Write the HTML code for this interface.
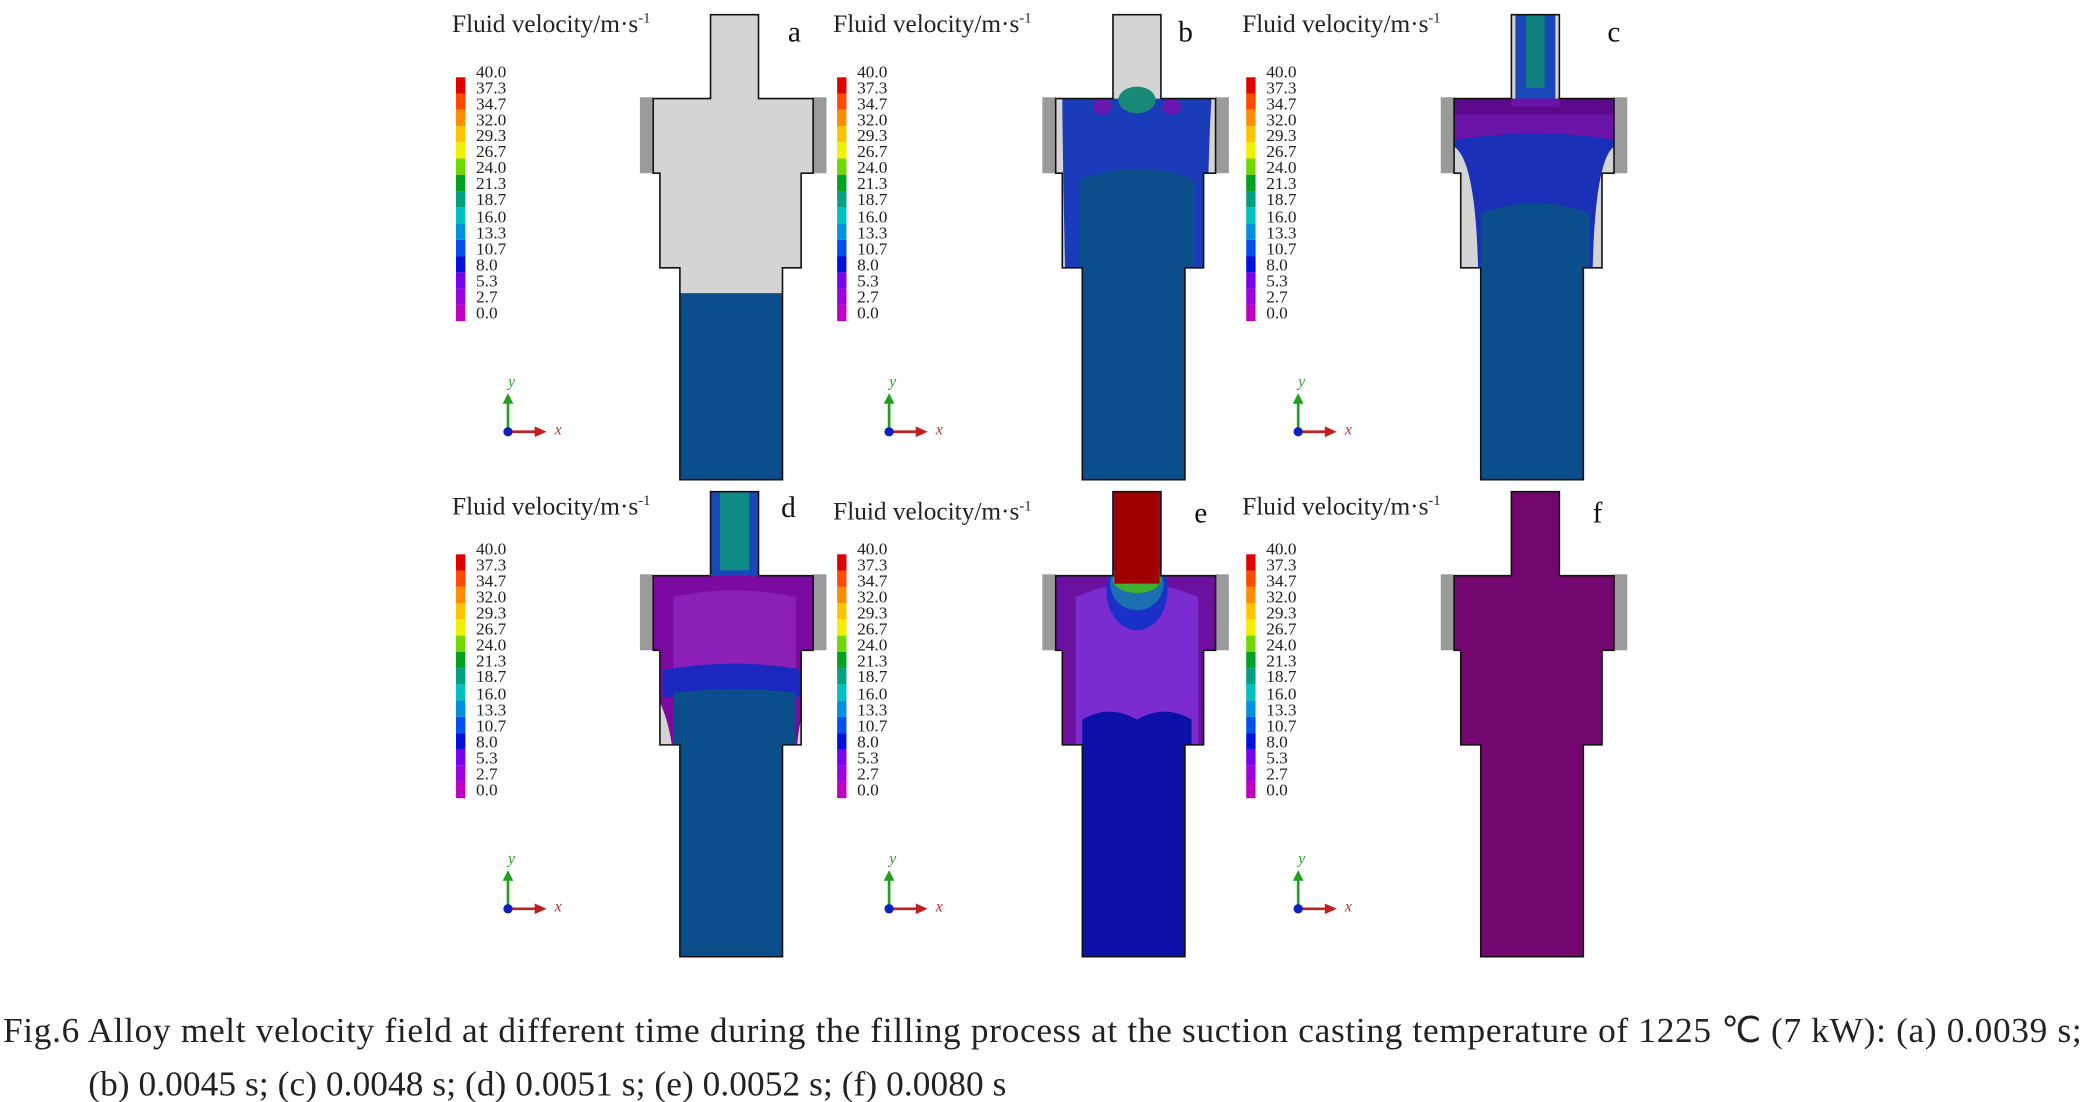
<!DOCTYPE html>
<html><head><meta charset="utf-8"><style>
html,body{margin:0;padding:0;background:#fff;}
svg{display:block}
text{font-family:"Liberation Serif",serif;}
</style></head><body>
<svg width="2090" height="1102" viewBox="0 0 1568 827" xmlns="http://www.w3.org/2000/svg">
<defs>
<path id="cav" d="M533,11 V74 H490 V130 H495 V201 H510 V360 H587 V201 H601 V130 H610 V74 H569 V11 Z"/>
<clipPath id="cp"><use href="#cav"/></clipPath>
<g id="bar">
<rect x="342" y="58" width="7" height="12.2" fill="#e00000"/>
<rect x="342" y="70.2" width="7" height="12.2" fill="#ff4a00"/>
<rect x="342" y="82.4" width="7" height="12.2" fill="#ff8c00"/>
<rect x="342" y="94.6" width="7" height="12.2" fill="#ffc400"/>
<rect x="342" y="106.8" width="7" height="12.2" fill="#f0f000"/>
<rect x="342" y="119" width="7" height="12.2" fill="#70d800"/>
<rect x="342" y="131.2" width="7" height="12.2" fill="#00a020"/>
<rect x="342" y="143.4" width="7" height="12.2" fill="#00a080"/>
<rect x="342" y="155.6" width="7" height="12.2" fill="#00c0c0"/>
<rect x="342" y="167.8" width="7" height="12.2" fill="#0090e0"/>
<rect x="342" y="180" width="7" height="12.2" fill="#0050f0"/>
<rect x="342" y="192.2" width="7" height="12.2" fill="#0010e0"/>
<rect x="342" y="204.4" width="7" height="12.2" fill="#7a00f0"/>
<rect x="342" y="216.6" width="7" height="12.2" fill="#a000e0"/>
<rect x="342" y="228.8" width="7" height="12.2" fill="#c000c0"/>
<line x1="381" y1="324" x2="381" y2="302" stroke="#20a020" stroke-width="2"/>
<path d="M377,303 L381,295 L385,303 Z" fill="#20a020"/>
<line x1="381" y1="324" x2="402" y2="324" stroke="#c02020" stroke-width="2"/>
<path d="M401,320 L410,324 L401,328 Z" fill="#c02020"/>
<circle cx="381" cy="324" r="3.5" fill="#1020c0"/>
</g>
</defs>

<g font-size="13" fill="#222">
<text x="339" y="24" font-size="19">Fluid velocity/m·s<tspan dy="-7" font-size="11">-1</tspan></text>
<text x="357" y="58">40.0</text><text x="357" y="70">37.3</text><text x="357" y="82">34.7</text><text x="357" y="94">32.0</text><text x="357" y="106">29.3</text><text x="357" y="118">26.7</text><text x="357" y="130">24.0</text><text x="357" y="142">21.3</text><text x="357" y="154">18.7</text><text x="357" y="167">16.0</text><text x="357" y="179">13.3</text><text x="357" y="191">10.7</text><text x="357" y="203">8.0</text><text x="357" y="215">5.3</text><text x="357" y="227">2.7</text><text x="357" y="239">0.0</text>
<text x="381" y="290" font-size="12" fill="#30a030" font-style="italic">y</text>
<text x="416" y="326" font-size="12" fill="#c03030" font-style="italic">x</text>
</g>
<use href="#bar"/>
<g transform="translate(286,0)"><g font-size="13" fill="#222">
<text x="339" y="24" font-size="19">Fluid velocity/m·s<tspan dy="-7" font-size="11">-1</tspan></text>
<text x="357" y="58">40.0</text><text x="357" y="70">37.3</text><text x="357" y="82">34.7</text><text x="357" y="94">32.0</text><text x="357" y="106">29.3</text><text x="357" y="118">26.7</text><text x="357" y="130">24.0</text><text x="357" y="142">21.3</text><text x="357" y="154">18.7</text><text x="357" y="167">16.0</text><text x="357" y="179">13.3</text><text x="357" y="191">10.7</text><text x="357" y="203">8.0</text><text x="357" y="215">5.3</text><text x="357" y="227">2.7</text><text x="357" y="239">0.0</text>
<text x="381" y="290" font-size="12" fill="#30a030" font-style="italic">y</text>
<text x="416" y="326" font-size="12" fill="#c03030" font-style="italic">x</text></g><use href="#bar"/></g>
<g transform="translate(593,0)"><g font-size="13" fill="#222">
<text x="339" y="24" font-size="19">Fluid velocity/m·s<tspan dy="-7" font-size="11">-1</tspan></text>
<text x="357" y="58">40.0</text><text x="357" y="70">37.3</text><text x="357" y="82">34.7</text><text x="357" y="94">32.0</text><text x="357" y="106">29.3</text><text x="357" y="118">26.7</text><text x="357" y="130">24.0</text><text x="357" y="142">21.3</text><text x="357" y="154">18.7</text><text x="357" y="167">16.0</text><text x="357" y="179">13.3</text><text x="357" y="191">10.7</text><text x="357" y="203">8.0</text><text x="357" y="215">5.3</text><text x="357" y="227">2.7</text><text x="357" y="239">0.0</text>
<text x="381" y="290" font-size="12" fill="#30a030" font-style="italic">y</text>
<text x="416" y="326" font-size="12" fill="#c03030" font-style="italic">x</text></g><use href="#bar"/></g>
<g transform="translate(0,358)"><g font-size="13" fill="#222">
<text x="339" y="28" font-size="19">Fluid velocity/m·s<tspan dy="-7" font-size="11">-1</tspan></text>
<text x="357" y="58">40.0</text><text x="357" y="70">37.3</text><text x="357" y="82">34.7</text><text x="357" y="94">32.0</text><text x="357" y="106">29.3</text><text x="357" y="118">26.7</text><text x="357" y="130">24.0</text><text x="357" y="142">21.3</text><text x="357" y="154">18.7</text><text x="357" y="167">16.0</text><text x="357" y="179">13.3</text><text x="357" y="191">10.7</text><text x="357" y="203">8.0</text><text x="357" y="215">5.3</text><text x="357" y="227">2.7</text><text x="357" y="239">0.0</text>
<text x="381" y="290" font-size="12" fill="#30a030" font-style="italic">y</text>
<text x="416" y="326" font-size="12" fill="#c03030" font-style="italic">x</text></g><use href="#bar"/></g>
<g transform="translate(286,358)"><g font-size="13" fill="#222">
<text x="339" y="32" font-size="19">Fluid velocity/m·s<tspan dy="-7" font-size="11">-1</tspan></text>
<text x="357" y="58">40.0</text><text x="357" y="70">37.3</text><text x="357" y="82">34.7</text><text x="357" y="94">32.0</text><text x="357" y="106">29.3</text><text x="357" y="118">26.7</text><text x="357" y="130">24.0</text><text x="357" y="142">21.3</text><text x="357" y="154">18.7</text><text x="357" y="167">16.0</text><text x="357" y="179">13.3</text><text x="357" y="191">10.7</text><text x="357" y="203">8.0</text><text x="357" y="215">5.3</text><text x="357" y="227">2.7</text><text x="357" y="239">0.0</text>
<text x="381" y="290" font-size="12" fill="#30a030" font-style="italic">y</text>
<text x="416" y="326" font-size="12" fill="#c03030" font-style="italic">x</text></g><use href="#bar"/></g>
<g transform="translate(593,358)"><g font-size="13" fill="#222">
<text x="339" y="28" font-size="19">Fluid velocity/m·s<tspan dy="-7" font-size="11">-1</tspan></text>
<text x="357" y="58">40.0</text><text x="357" y="70">37.3</text><text x="357" y="82">34.7</text><text x="357" y="94">32.0</text><text x="357" y="106">29.3</text><text x="357" y="118">26.7</text><text x="357" y="130">24.0</text><text x="357" y="142">21.3</text><text x="357" y="154">18.7</text><text x="357" y="167">16.0</text><text x="357" y="179">13.3</text><text x="357" y="191">10.7</text><text x="357" y="203">8.0</text><text x="357" y="215">5.3</text><text x="357" y="227">2.7</text><text x="357" y="239">0.0</text>
<text x="381" y="290" font-size="12" fill="#30a030" font-style="italic">y</text>
<text x="416" y="326" font-size="12" fill="#c03030" font-style="italic">x</text></g><use href="#bar"/></g>

<!-- Panel a -->
<g>
<rect x="480" y="73" width="10" height="57" fill="#9a9a9a"/><rect x="610" y="73" width="10" height="57" fill="#9a9a9a"/>
<use href="#cav" fill="#d4d4d4"/>
<g clip-path="url(#cp)"><rect x="505" y="220" width="90" height="140" fill="#0a4f8c"/></g>
<use href="#cav" fill="none" stroke="#111" stroke-width="1.2"/>
<text x="591" y="31" font-size="22" fill="#111">a</text>
</g>
<!-- Panel b -->
<g transform="translate(302,0)">
<rect x="480" y="73" width="10" height="57" fill="#9a9a9a"/><rect x="610" y="73" width="10" height="57" fill="#9a9a9a"/>
<use href="#cav" fill="#d4d4d4"/>
<g clip-path="url(#cp)">
<path d="M495,74 H607 Q605,100 603,200 L596,210 H502 L497,200 Q495,100 495,74 Z" fill="#1a3cb8"/>
<path d="M508,135 Q551,118 594,135 V360 H508 Z" fill="#0a4f8c"/>
<rect x="510" y="201" width="77" height="160" fill="#0a4f8c"/>
<ellipse cx="551" cy="75" rx="14" ry="10" fill="#1a8a78"/>
<ellipse cx="525" cy="80" rx="7" ry="6" fill="#6a18b0"/><ellipse cx="577" cy="80" rx="7" ry="6" fill="#6a18b0"/>
</g>
<use href="#cav" fill="none" stroke="#111" stroke-width="1.2"/>
<text x="582" y="31" font-size="22" fill="#111">b</text>
</g>
<!-- Panel c -->
<g transform="translate(601,0)">
<rect x="480" y="73" width="10" height="57" fill="#9a9a9a"/><rect x="610" y="73" width="10" height="57" fill="#9a9a9a"/>
<use href="#cav" fill="#d4d4d4"/>
<g clip-path="url(#cp)">
<rect x="536" y="11" width="30" height="70" fill="#1a48b8"/>
<rect x="544" y="11" width="14" height="55" fill="#108080"/>
<path d="M490,74 H610 V110 Q596,120 594,201 H508 Q506,120 490,110 Z" fill="#1a30b8"/>
<path d="M490,74 H610 V105 Q551,95 490,105 Z" fill="#6a14a8"/>
<path d="M490,74 H533 V80 H569 V74 H610 V86 H490 Z" fill="#5a0a8a"/>
<path d="M510,160 Q551,145 592,160 V360 H510 Z" fill="#0a4f8c"/>
</g>
<use href="#cav" fill="none" stroke="#111" stroke-width="1.2"/>
<text x="605" y="31" font-size="22" fill="#111">c</text>
</g>
<!-- Panel d -->
<g transform="translate(0,358)">
<rect x="480" y="73" width="10" height="57" fill="#9a9a9a"/><rect x="610" y="73" width="10" height="57" fill="#9a9a9a"/>
<use href="#cav" fill="#d4d4d4"/>
<g clip-path="url(#cp)">
<rect x="533" y="0" width="36" height="80" fill="#1a48b8"/>
<rect x="540" y="0" width="22" height="70" fill="#108a88"/>
<path d="M490,74 H610 V160 Q600,175 598,201 H504 Q500,175 490,160 Z" fill="#7a0aa0"/>
<path d="M505,90 Q551,80 597,90 V150 H505 Z" fill="#8a20b8"/>
<path d="M497,145 Q551,135 605,145 V165 H497 Z" fill="#1a28c0"/>
<path d="M505,162 Q551,156 597,162 V360 H505 Z" fill="#0a4f8c"/>
</g>
<use href="#cav" fill="none" stroke="#111" stroke-width="1.2"/>
<text x="586" y="30" font-size="22" fill="#111">d</text>
</g>
<!-- Panel e -->
<g transform="translate(302,358)">
<rect x="480" y="73" width="10" height="57" fill="#9a9a9a"/><rect x="610" y="73" width="10" height="57" fill="#9a9a9a"/>
<use href="#cav" fill="#6c10a0"/>
<g clip-path="url(#cp)">
<rect x="531" y="0" width="40" height="90" fill="#1a48b8"/>
<rect x="534" y="0" width="34" height="80" fill="#a00000"/>
<path d="M505,90 Q551,70 597,90 V201 H505 Z" fill="#7a2cd0"/>
<ellipse cx="551" cy="85" rx="23" ry="30" fill="#1a30c8"/>
<ellipse cx="551" cy="80" rx="20" ry="20" fill="#1a70b0"/>
<ellipse cx="551" cy="77" rx="18" ry="10" fill="#40b030"/>
<rect x="534" y="0" width="34" height="80" fill="#a00000"/>
<path d="M510,182 Q530,170 551,182 Q572,170 592,182 V360 H510 Z" fill="#0a10a8"/>
</g>
<use href="#cav" fill="none" stroke="#111" stroke-width="1.2"/>
<text x="594" y="34" font-size="22" fill="#111">e</text>
</g>
<!-- Panel f -->
<g transform="translate(601,358)">
<rect x="480" y="73" width="10" height="57" fill="#9a9a9a"/><rect x="610" y="73" width="10" height="57" fill="#9a9a9a"/>
<use href="#cav" fill="#74066f" stroke="#111" stroke-width="1.2"/>
<text x="594" y="34" font-size="22" fill="#111">f</text>
</g>

<!-- Caption -->
<text x="2" y="782" font-size="26.5" fill="#222" textLength="1560" lengthAdjust="spacing">Fig.6 Alloy melt velocity field at different time during the filling process at the suction casting temperature of 1225 ℃ (7 kW): (a) 0.0039 s;</text>
<text x="66" y="822" font-size="26.5" fill="#222" textLength="689" lengthAdjust="spacing">(b) 0.0045 s; (c) 0.0048 s; (d) 0.0051 s; (e) 0.0052 s; (f) 0.0080 s</text>
</svg>
</body></html>
